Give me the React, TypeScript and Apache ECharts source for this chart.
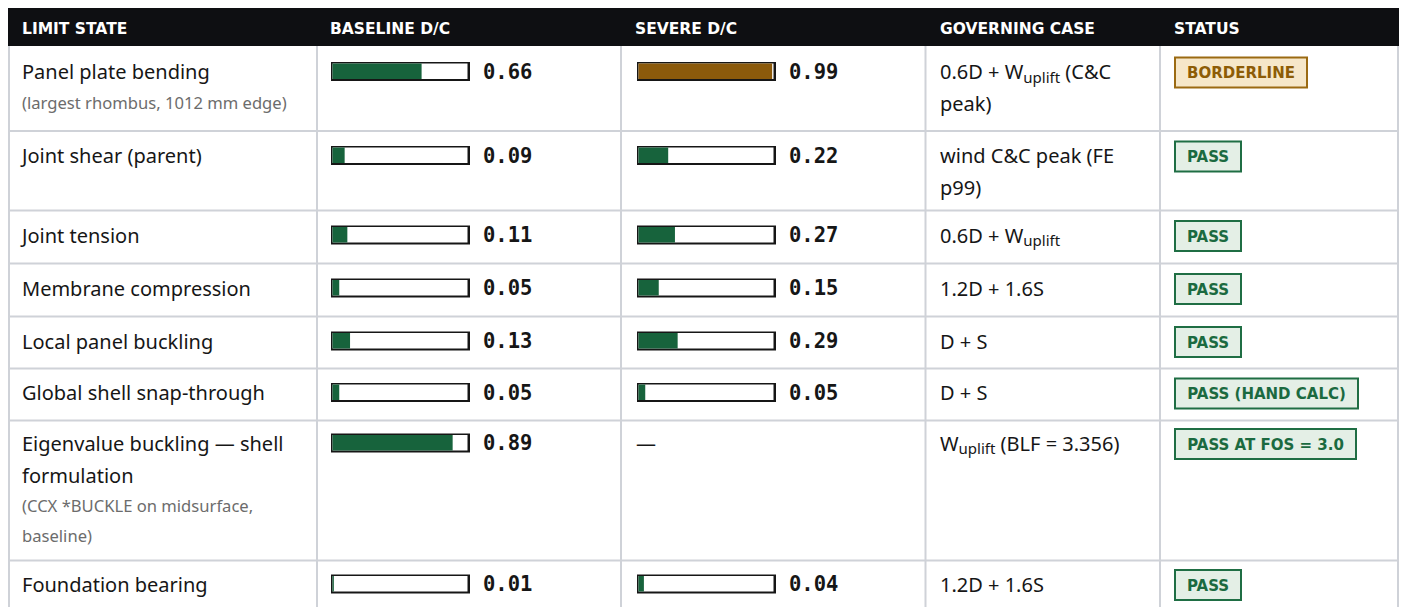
import React, { useEffect, useRef } from "react";
import * as echarts from "echarts";

// ---------- data ----------
const headers = ["LIMIT STATE", "BASELINE D/C", "SEVERE D/C", "GOVERNING CASE", "STATUS"];
const limitStates = [
  "Panel plate bending",
  "Joint shear (parent)",
  "Joint tension",
  "Membrane compression",
  "Local panel buckling",
  "Global shell snap-through",
  "Eigenvalue buckling — shell\nformulation",
  "Foundation bearing",
];
const notes = [
  "(largest rhombus, 1012 mm edge)",
  "",
  "",
  "",
  "",
  "",
  "(CCX *BUCKLE on midsurface,\nbaseline)",
  "",
];
const baselineDC: (number | null)[] = [0.66, 0.09, 0.11, 0.05, 0.13, 0.05, 0.89, 0.01];
const severeDC: (number | null)[] = [0.99, 0.22, 0.27, 0.15, 0.29, 0.05, null, 0.04];
const governingCases = [
  "0.6D + W_{uplift} (C&C\npeak)",
  "wind C&C peak (FE\np99)",
  "0.6D + W_{uplift}",
  "1.2D + 1.6S",
  "D + S",
  "D + S",
  "W_{uplift} (BLF = 3.356)",
  "1.2D + 1.6S",
];
const statuses = [
  "BORDERLINE",
  "PASS",
  "PASS",
  "PASS",
  "PASS",
  "PASS (HAND CALC)",
  "PASS AT FOS = 3.0",
  "PASS",
];

// ---------- layout ----------
const W = 1401;
const H = 607;
const TABLE_L = 8;
const TABLE_R = 1399;
const HEADER_TOP = 8;
const HEADER_BOTTOM = 46;
const colLines = [9, 317, 621, 925.5, 1160, 1398];
const headerX = [22, 330, 635, 940, 1174];
const rowLines = [131, 210.5, 263.5, 316.5, 368.5, 420.5, 560.5];
const rowCenters = [71.5, 155.5, 235, 288, 341, 392.5, 443, 584];
const barOuterX = [331, 637];
const numberX = [483, 789];
const BAR_OUTER_W = 139;
const BAR_OUTER_H = 19;
const TRACK_W = 135;
const TRACK_H = 15.5;
const BADGE_X = 1174;
const BADGE_H = 32;

const SANS = '"Noto Sans"';
const HEAD_FAMILY = '"DejaVu Sans"';
const MONO = '"DejaVu Sans Mono"';

const C = {
  header: "#0e0f12",
  line: "#cfd2d8",
  text: "#161616",
  note: "#6c6c6c",
  green: "#17633c",
  brown: "#8b5a0b",
  frame: "#161616",
  passFill: "#e4efe6",
  passStroke: "#1f6e44",
  passText: "#1b6a40",
  warnFill: "#f6e7c9",
  warnStroke: "#9b6a12",
  warnText: "#8d5c06",
};

let ctx: CanvasRenderingContext2D | null = null;
function measure(text: string, font: string): number {
  if (!ctx) ctx = document.createElement("canvas").getContext("2d");
  if (!ctx) return text.length * 10;
  ctx.font = font;
  return ctx.measureText(text).width;
}

function parseSegments(line: string) {
  const out: { text: string; sub: boolean }[] = [];
  const re = /_\{([^}]*)\}/g;
  let last = 0;
  let m: RegExpExecArray | null;
  while ((m = re.exec(line))) {
    if (m.index > last) out.push({ text: line.slice(last, m.index), sub: false });
    out.push({ text: m[1], sub: true });
    last = re.lastIndex;
  }
  if (last < line.length) out.push({ text: line.slice(last), sub: false });
  return out;
}

function textEl(x: number, y: number, text: string, o: any) {
  return {
    type: "text",
    x,
    y,
    silent: true,
    z: 20,
    style: {
      text,
      fill: o.fill,
      fontSize: o.fontSize,
      fontFamily: o.fontFamily,
      fontWeight: o.fontWeight || "normal",
      lineHeight: o.lineHeight,
      align: o.align || "left",
      textAlign: o.align || "left",
      verticalAlign: o.verticalAlign || "middle",
      textVerticalAlign: o.verticalAlign || "middle",
    },
  };
}

function buildOption() {
  const elements: any[] = [];
  elements.push({ type: "rect", z: 0, silent: true, shape: { x: 0, y: 0, width: W, height: H }, style: { fill: "#ffffff" } });
  elements.push({
    type: "rect",
    z: 1,
    silent: true,
    shape: { x: TABLE_L, y: HEADER_TOP, width: TABLE_R - TABLE_L, height: HEADER_BOTTOM - HEADER_TOP },
    style: { fill: C.header },
  });
  headers.forEach((h, i) => {
    elements.push(
      textEl(headerX[i], (HEADER_TOP + HEADER_BOTTOM) / 2 + 1.5, h, {
        fill: "#ffffff",
        fontSize: 15.5,
        fontFamily: HEAD_FAMILY,
        fontWeight: "bold",
      })
    );
  });
  // grid lines
  rowLines.forEach((y) => {
    elements.push({ type: "rect", z: 1, silent: true, shape: { x: TABLE_L, y: y - 1, width: TABLE_R - TABLE_L, height: 2 }, style: { fill: C.line } });
  });
  colLines.forEach((x) => {
    elements.push({ type: "rect", z: 1, silent: true, shape: { x: x - 1, y: HEADER_BOTTOM, width: 2, height: H - HEADER_BOTTOM }, style: { fill: C.line } });
  });

  const grids: any[] = [];
  const xAxes: any[] = [];
  const yAxes: any[] = [];
  const series: any[] = [];

  const bodyFont = `20px ${SANS}`;
  const subFont = `15px ${SANS}`;
  const badgeFont = `bold 15px ${HEAD_FAMILY}`;

  limitStates.forEach((label, r) => {
    const cy = rowCenters[r];
    const labelLines = label.split("\n").length;
    elements.push(
      textEl(22, cy - 16, label, { fill: C.text, fontSize: 20, fontFamily: SANS, lineHeight: 32, verticalAlign: "top" })
    );
    if (notes[r]) {
      const firstNote = cy + (labelLines - 1) * 32 + 30.5;
      elements.push(
        textEl(22, firstNote - 15, notes[r], { fill: C.note, fontSize: 16.6, fontFamily: SANS, lineHeight: 30, verticalAlign: "top" })
      );
    }

    // D/C bars
    [baselineDC[r], severeDC[r]].forEach((v, c) => {
      const ox = barOuterX[c];
      if (v === null || v === undefined) {
        elements.push(textEl(ox - 1, cy, "—", { fill: C.text, fontSize: 20, fontFamily: SANS }));
        return;
      }
      const oy = cy - BAR_OUTER_H / 2;
      elements.push({ type: "rect", z: 2, silent: true, shape: { x: ox, y: oy, width: BAR_OUTER_W, height: BAR_OUTER_H }, style: { fill: C.frame } });
      elements.push({ type: "rect", z: 3, silent: true, shape: { x: ox + 1.5, y: oy + 1.5, width: TRACK_W, height: TRACK_H }, style: { fill: "#ffffff" } });
      const gi = grids.length;
      grids.push({ left: ox + 1.5, top: oy + 1.5, width: TRACK_W, height: TRACK_H, show: false });
      xAxes.push({ type: "value", gridIndex: gi, min: 0, max: 1, show: false });
      yAxes.push({ type: "category", gridIndex: gi, data: [limitStates[r].replace("\n", " ")], show: false });
      series.push({
        type: "bar",
        name: `${c === 0 ? "Baseline" : "Severe"} D/C — ${limitStates[r].replace("\n", " ")}`,
        xAxisIndex: gi,
        yAxisIndex: gi,
        data: [v],
        barWidth: "100%",
        z: 10,
        silent: true,
        itemStyle: { color: v > 0.9 ? C.brown : C.green },
      });
      elements.push(
        textEl(numberX[c], cy, v.toFixed(2), { fill: C.text, fontSize: 20.5, fontFamily: MONO, fontWeight: "bold" })
      );
    });

    // governing case
    governingCases[r].split("\n").forEach((line, li) => {
      const ly = cy + li * 32;
      let cursor = 940;
      parseSegments(line).forEach((seg) => {
        const font = seg.sub ? subFont : bodyFont;
        const lead = seg.text.match(/^\s*/)![0];
        if (lead) cursor += measure(lead, font);
        const t = seg.text.slice(lead.length);
        if (t) {
          elements.push(
            textEl(cursor, seg.sub ? ly + 5 : ly, t, { fill: C.text, fontSize: seg.sub ? 15 : 20, fontFamily: SANS })
          );
          cursor += measure(t, font);
        }
      });
    });

    // status badge
    const st = statuses[r];
    const warn = st === "BORDERLINE";
    const tw = measure(st, badgeFont);
    const bw = Math.round(tw + 26);
    const by = cy + 1 - BADGE_H / 2;
    elements.push({
      type: "rect",
      z: 4,
      silent: true,
      shape: { x: BADGE_X + 1, y: by + 1, width: bw - 2, height: BADGE_H - 2 },
      style: { fill: warn ? C.warnFill : C.passFill, stroke: warn ? C.warnStroke : C.passStroke, lineWidth: 2 },
    });
    elements.push(
      textEl(BADGE_X + bw / 2, by + BADGE_H / 2 + 0.5, st, {
        fill: warn ? C.warnText : C.passText,
        fontSize: 15,
        fontFamily: HEAD_FAMILY,
        fontWeight: "bold",
        align: "center",
      })
    );
  });

  return {
    animation: false,
    backgroundColor: "#ffffff",
    grid: grids,
    xAxis: xAxes,
    yAxis: yAxes,
    series,
    graphic: { elements },
  };
}

export default function App() {
  const ref = useRef<HTMLDivElement>(null);
  useEffect(() => {
    if (!ref.current) return;
    const chart = echarts.init(ref.current, undefined, { renderer: "svg", width: W, height: H });
    chart.setOption(buildOption() as any);
    return () => chart.dispose();
  }, []);
  return <div ref={ref} style={{ position: "fixed", left: 0, top: 0, width: W, height: H }} />;
}
